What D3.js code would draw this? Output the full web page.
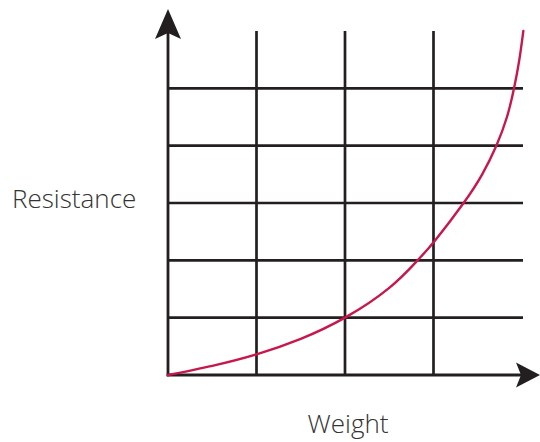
<!DOCTYPE html>
<html>
<head>
<meta charset="utf-8">
<script src="https://cdn.jsdelivr.net/npm/d3@7"></script>
<style>
  html, body { margin: 0; padding: 0; background: #fff; }
  text { font-family: "Open Sans", "Noto Sans", sans-serif; fill: #333; }
</style>
</head>
<body>
<div id="chart"></div>
<script>
var width = 540;
var height = 442;

// grid positions in grid units
var xGridLines = [1, 2, 3];
var yGridLines = [1, 2, 3, 4, 5];

// curve (grid units)
var weight =     [0, 0.5, 1, 1.5, 2, 2.5, 2.82, 3.02, 3.34, 3.55, 3.71, 3.83, 3.91, 3.97, 4.015];
var resistance = [0, 0.16, 0.36, 0.63, 1.0, 1.52, 2.0, 2.35, 3.0, 3.5, 4.0, 4.5, 5.0, 5.5, 6.0];

var xLabel = 'Weight';
var yLabel = 'Resistance';

var x = d3.scaleLinear().domain([0, 4]).range([168, 522]);
var y = d3.scaleLinear().domain([0, 6]).range([375, 31]);

var svg = d3.select('#chart')
    .append('svg')
    .attr('width', width)
    .attr('height', height);

var lineColor = '#231f20';

svg.selectAll('.vgrid')
    .data(xGridLines)
    .enter().append('line')
    .attr('x1', function (d) { return x(d); })
    .attr('x2', function (d) { return x(d); })
    .attr('y1', y(6))
    .attr('y2', y(0))
    .style('stroke', lineColor)
    .style('stroke-width', 2.7);

svg.selectAll('.hgrid')
    .data(yGridLines)
    .enter().append('line')
    .attr('x1', x(0))
    .attr('x2', x(4) + 1)
    .attr('y1', function (d) { return y(d); })
    .attr('y2', function (d) { return y(d); })
    .style('stroke', lineColor)
    .style('stroke-width', 2.7);

// axes with arrow heads
svg.append('line')
    .attr('x1', x(0)).attr('y1', y(0) + 1.3)
    .attr('x2', x(0)).attr('y2', 30)
    .style('stroke', lineColor)
    .style('stroke-width', 2.8);
svg.append('path')
    .attr('d', 'M' + x(0) + ',9 L' + (x(0) + 13) + ',39 L' + x(0) + ',33 L' + (x(0) - 13) + ',39 Z')
    .style('fill', lineColor);

svg.append('line')
    .attr('x1', x(0) - 1.3).attr('y1', y(0))
    .attr('x2', 525).attr('y2', y(0))
    .style('stroke', lineColor)
    .style('stroke-width', 2.8);
svg.append('path')
    .attr('d', 'M540,' + y(0) + ' L516,' + (y(0) - 12.5) + ' L521,' + y(0) + ' L516,' + (y(0) + 12.5) + ' Z')
    .style('fill', lineColor);

var points = weight.map(function (w, i) { return [w, resistance[i]]; });
var line = d3.line()
    .x(function (d) { return x(d[0]); })
    .y(function (d) { return y(d[1]); })
    .curve(d3.curveNatural);

svg.append('path')
    .datum(points)
    .attr('d', line)
    .style('fill', 'none')
    .style('stroke', '#c8174a')
    .style('stroke-width', 2.4)
    .style('stroke-linecap', 'round');

svg.append('text')
    .attr('x', 12)
    .attr('y', 208)
    .style('font-size', '26px')
    .style('font-weight', 300)
    .text(yLabel);

svg.append('text')
    .attr('x', 348)
    .attr('y', 433)
    .attr('text-anchor', 'middle')
    .style('font-size', '26px')
    .style('font-weight', 300)
    .text(xLabel);
</script>
</body>
</html>
